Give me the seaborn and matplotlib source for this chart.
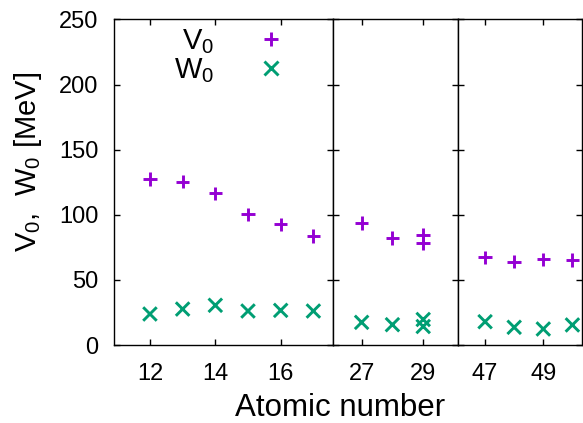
import matplotlib
matplotlib.use("Agg")
import matplotlib.pyplot as plt
from matplotlib.lines import Line2D
import seaborn as sns
import pandas as pd

# Optical potential depths V0 and W0 per target, grouped by atomic-number range
z_light = [12, 13, 14, 15, 16, 17]
v_light = [127.5, 125.4, 116.5, 100.4, 92.7, 83.7]
w_light = [23.8, 27.6, 30.5, 26.1, 26.6, 26.1]

z_mid = [27, 28, 29, 29]
v_mid = [93.5, 82.2, 84.4, 78.1]
w_mid = [17.4, 15.6, 19.6, 14.2]

z_heavy = [47, 48, 49, 50]
v_heavy = [67.3, 64.0, 65.8, 65.3]
w_heavy = [17.9, 13.6, 12.3, 15.4]

panel_xlims = [(10.9, 17.61), (26.08, 30.14), (46.08, 50.33)]
panel_xticks = [[12, 14, 16], [27, 29], [47, 49]]
y_ticks = [0, 50, 100, 150, 200, 250]

V_COLOR = "#9400D3"
W_COLOR = "#009E73"

sns.set_theme(style="ticks")
plt.rcParams["font.family"] = ["Liberation Sans", "DejaVu Sans"]
plt.rcParams["mathtext.fontset"] = "custom"
plt.rcParams["mathtext.rm"] = "Liberation Sans"
plt.rcParams["mathtext.default"] = "regular"
for key in ("text.color", "axes.labelcolor", "xtick.color", "ytick.color",
            "xtick.labelcolor", "ytick.labelcolor"):
    plt.rcParams[key] = "black"

groups = [(z_light, v_light, w_light), (z_mid, v_mid, w_mid), (z_heavy, v_heavy, w_heavy)]

W_PX, H_PX = 583, 423
fig = plt.figure(figsize=(W_PX / 100, H_PX / 100), dpi=100)

left_px, right_px, top_px, bottom_px = 114, 582, 19.5, 345
edges_px = [left_px, 333.3, 458.3, right_px]
axes = []
for i in range(3):
    x0 = edges_px[i] / W_PX
    w = (edges_px[i + 1] - edges_px[i]) / W_PX
    ax = fig.add_axes([x0, (H_PX - bottom_px) / H_PX, w, (bottom_px - top_px) / H_PX])
    axes.append(ax)

for i, (ax, (z, v, w)) in enumerate(zip(axes, groups)):
    df = pd.DataFrame({"Z": z + z, "value": v + w,
                       "param": ["V"] * len(z) + ["W"] * len(z)})
    sns.scatterplot(data=df, x="Z", y="value", hue="param", style="param",
                    palette={"V": V_COLOR, "W": W_COLOR},
                    markers={"V": "+", "W": "x"}, s=95, linewidth=2.1,
                    legend=False, ax=ax, clip_on=False, zorder=3)
    ax.set_xlim(*panel_xlims[i])
    ax.set_ylim(0, 250)
    ax.set_xticks(panel_xticks[i])
    ax.set_yticks(y_ticks)
    ax.tick_params(direction="in", length=4.5, width=1, labelsize=17,
                   top=True, right=True, colors="black", pad=11)
    ax.tick_params(axis="x", pad=13)
    ax.set_xlabel("")
    ax.set_ylabel("")
    for sp in ax.spines.values():
        sp.set_linewidth(1.0)
        sp.set_color("black")
    if i > 0:
        ax.set_yticklabels([])

ax0 = axes[0]
ax0.set_ylabel("V$_0$,  W$_0$ [MeV]", fontsize=21, va="center", color="black")
ax0.yaxis.set_label_coords((28 - left_px) / (edges_px[1] - left_px),
                           (bottom_px - 162) / (bottom_px - top_px))

fig.text(340 / W_PX, 0.5 / H_PX, "Atomic number", fontsize=22.5,
         ha="center", va="bottom", color="black")

handles = [
    Line2D([], [], linestyle="", marker="+", color=V_COLOR, markersize=10, markeredgewidth=2.1),
    Line2D([], [], linestyle="", marker="x", color=W_COLOR, markersize=9.5, markeredgewidth=2.1),
]
ax0.legend(handles, ["V$_0$", "W$_0$"], loc="upper right",
           bbox_to_anchor=((300 - left_px) / (edges_px[1] - left_px), 0.975),
           frameon=False, markerfirst=False, fontsize=21, handlelength=2.0,
           handletextpad=0.95, labelspacing=0.0, borderpad=0.0, borderaxespad=0.0,
           labelcolor="black")

fig.savefig("out.png", dpi=100)
